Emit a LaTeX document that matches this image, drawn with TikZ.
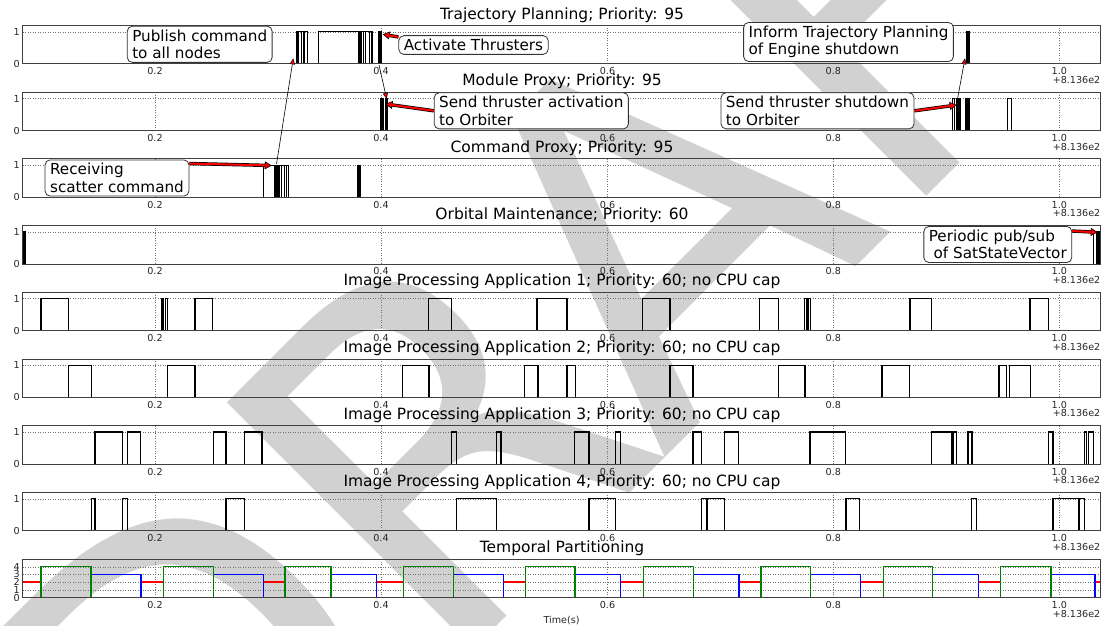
\documentclass[tikz,border=0pt]{standalone}
\usepackage{fontspec}
\setmainfont{DejaVu Sans}
\usetikzlibrary{arrows.meta}
\definecolor{mplgreen}{rgb}{0,0.5,0}
\tikzstyle{frame} = [draw=black!75, line width=0.8pt]
\tikzstyle{gridline} = [black!55, dotted, line width=0.5pt]
\tikzstyle{pulseline} = [black, line width=1.3pt]
\tikzstyle{ticklabel} = [font=\fontsize{9.6}{10}\selectfont, inner sep=0pt, text=black!85]
\tikzstyle{paneltitle} = [font=\fontsize{15.5}{17}\selectfont, inner sep=0pt]
\tikzstyle{note} = [rectangle, rounded corners=5pt, draw=black!80, fill=white, line width=0.8pt, align=left, font=\fontsize{15.2}{17.4}\selectfont, inner xsep=5pt, inner ysep=3.5pt]
\tikzstyle{thinarrow} = [black, line width=0.6pt, -{Triangle[length=6pt, width=5pt, fill=red, line width=0.5pt]}]
% pulses of one panel: #1 = bottom of the panel, #2 = list of start/end
\newcommand{\pulses}[2]{\foreach \a/\b in {#2} \draw[pulseline] (\a,#1) -- (\a,#1-32) -- (\b,#1-32) -- (\b,#1);}
\newcommand{\bars}[2]{\foreach \a/\b in {#2} \filldraw[pulseline] (\a,#1) rectangle (\b,#1-32);}
% temporal partitions: #1 = colour, #2 = level, #3 = list
\newcommand{\steps}[3]{\foreach \a/\b in {#3} \draw[#1, line width=1.4pt] (\a,597.56) |- (\b,#2) -- (\b,597.56);}
\newcommand{\redarrow}[2]{%
  \draw[black, line width=3.4pt, -{Triangle[length=7pt, width=8pt, fill=red, line width=0.6pt]}] (#1) -- (#2);
  \draw[red, line width=2pt, shorten >=6.5pt] (#1) -- (#2);}

\begin{document}
\begin{tikzpicture}[x=1pt, y=-1pt]
      \useasboundingbox (0,0) rectangle (1106,626);
      \clip (0,0) rectangle (1106,626);
      % watermark
      \node[text=black!18, rotate=45, anchor=base west, font=\fontsize{478}{478}\selectfont, inner sep=0pt] (draft) at (180.5,942.5) {DRAFT};

      % panel frames, grid and tick labels
      \foreach \k in {0,...,8}{
        \pgfmathsetmacro\ptop{25.3+66.72*\k}
        \pgfmathsetmacro\pbot{\ptop+38.5}
        \foreach \t/\x [count=\i] in {0.2/155,0.4/381,0.6/607.5,0.8/833.3,1.0/1059.3}{
          \draw[gridline] (\x,\ptop) -- (\x,\pbot);
          \node[ticklabel] (xt\k-\i) at (\x,\pbot+7.5) {\t};
        }
        \node[ticklabel, anchor=east] (off\k) at (1100.5,\pbot+16) {+8.136e2};
      }
      \foreach \k in {0,...,7}{
        \pgfmathsetmacro\pbot{63.8+66.72*\k}
        \draw[gridline] (22.7,\pbot-32) -- (1100,\pbot-32);
        \node[ticklabel, anchor=east] (one\k) at (20,\pbot-32) {1};
        \node[ticklabel, anchor=east] (zero\k) at (20,\pbot) {0};
      }
      \foreach \v in {1,...,4}
        \draw[gridline] (22.7,597.56-7.7*\v) -- (1100,597.56-7.7*\v);
      \foreach \v in {0,...,4}
        \node[ticklabel, anchor=east] (lvl\v) at (20,597.56-7.7*\v) {\v};

      % titles
      \node[paneltitle] (t0) at (562,14.8) {Trajectory Planning; Priority: 95};
      \node[paneltitle] (t1) at (562,81.5) {Module Proxy; Priority: 95};
      \node[paneltitle] (t2) at (562,148.2) {Command Proxy; Priority: 95};
      \node[paneltitle] (t3) at (562,215) {Orbital Maintenance; Priority: 60};
      \node[paneltitle] (t4) at (562,281.7) {Image Processing Application 1; Priority: 60; no CPU cap};
      \node[paneltitle] (t5) at (562,348.4) {Image Processing Application 2; Priority: 60; no CPU cap};
      \node[paneltitle] (t6) at (562,415.1) {Image Processing Application 3; Priority: 60; no CPU cap};
      \node[paneltitle] (t7) at (562,481.8) {Image Processing Application 4; Priority: 60; no CPU cap};
      \node[paneltitle] (t8) at (562,548.6) {Temporal Partitioning};
      \node[ticklabel] (xlabel) at (561.5,620) {Time(s)};

      % Trajectory Planning
      \pulses{63.8}{296.7/301.7, 301.7/304, 304/307.3, 318.3/358.3, 358.3/363.3, 363.3/365.7, 365.7/369.3, 369.3/372.7}
      \bars{63.8}{296.7/298.6, 358.3/361.4, 371.3/372.7, 379/381.7, 966.7/969.3}
      % Module Proxy
      \pulses{130.52}{952.3/954.3, 1007.3/1011.7}
      \bars{130.52}{381/383.3, 385.7/387.7, 956.9/960.8, 965.2/969.3}
      % Command Proxy
      \pulses{197.24}{263.3/275, 275/279.2, 279.2/281.7, 281.7/284.2, 284.2/286.7, 286.7/288.3}
      \bars{197.24}{275/278.2, 357.7/360}
      % Orbital Maintenance
      \pulses{263.96}{1093.7/1096.3}
      \bars{263.96}{22.7/25.5, 1096.3/1100}
      % Image Processing 1..4
      \pulses{330.68}{41.1/68.6, 162.1/163.5, 165.3/167.7, 195.1/212.7, 428.3/451.8, 536.9/567.1, 642.7/670.1,
        759.7/778.4, 804.8/806.5, 808/810.4, 909.9/931.7, 1030.1/1048.8}
      \pulses{397.4}{68.6/91.4, 167.7/195.1, 402.6/429, 524.6/538, 567.1/575.2, 670.1/693, 778.4/805.1,
        882.1/909.2, 998.9/1006.6, 1009.4/1030.5}
      \pulses{464.12}{94.9/122.4, 127.3/140.6, 213.4/226.1, 244.4/261.9, 451.8/456.4, 496.8/501.1, 574.8/588.9,
        615.6/620.2, 693/701.4, 724.2/738.3, 810/845.5, 931.7/952.1, 953.1/956.6, 967.9/972.1, 1048.8/1053,
        1084.6/1086.4, 1088.2/1093.4}
      \pulses{530.84}{91.4/94.9, 122.4/127.3, 226.1/244.4, 456.4/496.8, 588.9/615.6, 701.4/706.3, 707/724.2,
        845.9/859.6, 971.4/976.7, 1053/1078.3, 1079.5/1084.6}
      % Temporal Partitioning
      \steps{red}{582.16}{22.7/41, 141/163.3, 263.3/285, 376.7/403.3, 503.3/525.7, 620.7/643.3, 739/761,
        860.7/883.3, 978.3/1000.7}
      \draw[red, line width=1.4pt] (1095,597.56) |- (1100,582.16);
      \steps{blue}{574.46}{91/141, 213.3/263.3, 331/376.7, 453.3/503.3, 575/620.7, 693.3/739, 810.7/860.7,
        932.7/978.3, 1051/1095}
      \steps{mplgreen}{566.76}{41/91, 163.3/213.3, 285/331, 403.3/453.3, 525.7/575, 643.3/693.3, 761/810.7,
        883.3/932.7, 1000.7/1051}

      \foreach \k in {0,...,8}
        \draw[frame] (22.7,25.3+66.72*\k) rectangle (1100,63.8+66.72*\k);

      % annotations
      \node (publish) [note] at (199.7,44.3) {Publish command\\to all nodes};
      \node (activate) [note] at (473.5,45) {Activate Thrusters};
      \node (sendact) [note] at (531.3,110.8) {Send thruster activation\\to Orbiter};
      \node (receive) [note] at (117,178) {Receiving\\scatter command};
      \node (inform) [note] at (848.5,42) {Inform Trajectory Planning\\of Engine shutdown};
      \node (sendshut) [note] at (817.5,110.8) {Send thruster shutdown\\to Orbiter};
      \node (periodic) [note] at (997.8,244.5) {Periodic pub/sub\\\ of SatStateVector};

      \coordinate (rcvtip) at (271.7,165.5);
      \coordinate (acttip) at (382.7,34.3);
      \coordinate (mptip) at (385.5,104);
      \coordinate (shuttip) at (956.7,105);
      \coordinate (sattip) at (1097.7,232.3);
      \coordinate (cmdsrc) at (276.5,164);
      \coordinate (pubtip) at (293.3,58.3);
      \coordinate (tpsrc) at (379,65);
      \coordinate (mptop) at (386.7,99);
      \coordinate (mpsrc) at (957.3,100);
      \coordinate (tptip) at (965,58.3);

      \redarrow{[yshift=-4pt]receive.north east}{rcvtip}
      \redarrow{[yshift=8pt]activate.west}{acttip}
      \redarrow{sendact.west}{mptip}
      \redarrow{sendshut.east}{shuttip}
      \redarrow{[yshift=-5pt]periodic.north east}{sattip}
      \draw [thinarrow] (cmdsrc) -- (pubtip);
      \draw [thinarrow] (tpsrc) -- (mptop);
      \draw [thinarrow] (mpsrc) -- (tptip);
\end{tikzpicture}
\end{document}
